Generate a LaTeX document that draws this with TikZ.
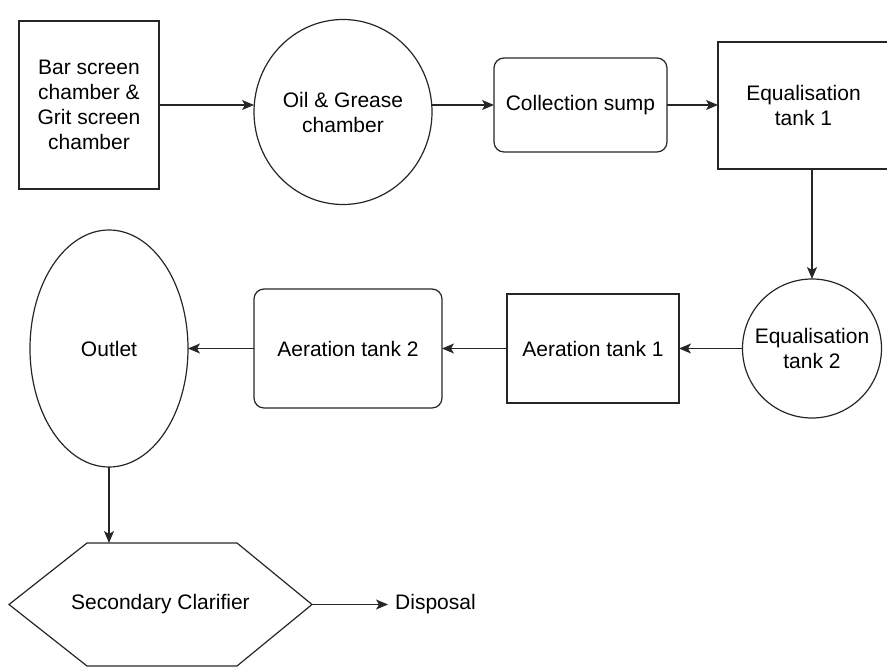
\documentclass[tikz,border=0pt]{standalone}
\usepackage{fontspec}
\setmainfont{Liberation Sans}
\usetikzlibrary{shapes.geometric,arrows.meta}

\tikzset{
  unit/.style={draw=black!85, line width=1.2pt, align=center, inner sep=2pt,
    outer sep=0pt, font=\fontsize{21}{25}\selectfont},
  tankbox/.style={unit, rectangle},
  sumpbox/.style={unit, rectangle, rounded corners=10pt},
  chamber/.style={unit, ellipse},
  clarbox/.style={unit, rectangle, draw=none},
  outline/.style={draw=black!85, line width=1.2pt, line join=miter},
  lbl/.style={align=center, font=\fontsize{21}{25}\selectfont},
  flow/.style={draw=black!85, line width=1.2pt,
    -{Stealth[length=12pt,width=10pt,inset=3pt]}},
}

\begin{document}
\begin{tikzpicture}[x=1pt,y=-1pt]
    \useasboundingbox (0,0) rectangle (887,669);
    % First row
    \node[tankbox, minimum width=140pt, minimum height=168pt] (bar) at (89,105)
      {Bar screen\\chamber \&\\Grit screen\\chamber};
    \node[chamber, minimum width=178pt, minimum height=185pt] (oil) at (343,112)
      {Oil \& Grease\\chamber};
    \node[sumpbox, minimum width=173pt, minimum height=94pt] (sump) at (580.5,105)
      {Collection sump};
    \node[tankbox, minimum width=171pt, minimum height=127pt] (eq1) at (803.5,105.5)
      {Equalisation\\tank 1};
    % Second row
    \node[chamber, minimum width=139pt, minimum height=139pt,
      label={[lbl]center:Equalisation\\tank 2}] (eq2) at (812,348.5) {};
    \node[tankbox, minimum width=172pt, minimum height=109pt] (aer1) at (593,348.5)
      {Aeration tank 1};
    \node[sumpbox, minimum width=188pt, minimum height=119pt] (aer2) at (348,348.5)
      {Aeration tank 2};
    \node[chamber, minimum width=158pt, minimum height=237pt] (outlet) at (109,348.5)
      {Outlet};
    % Clarifier (hexagon on the node's anchors) and disposal
    \node[clarbox, minimum width=303pt, minimum height=123pt] (clar) at (160.5,604.5)
      {Secondary Clarifier};
    \draw[outline] ([xshift=78pt]clar.north west) -- ([xshift=-75pt]clar.north east)
      -- (clar.east) -- ([xshift=-75pt]clar.south east)
      -- ([xshift=78pt]clar.south west) -- (clar.west) -- cycle;
    \node[lbl, anchor=west, inner sep=0pt, inner xsep=7pt] (disp) at (388,604.5)
      {Disposal};
    % Arrows
    \draw[flow] (bar.east) -- (bar.east -| oil.west);
    \draw[flow] (oil.east |- sump.west) -- (sump.west);
    \draw[flow] (sump.east) -- (sump.east -| eq1.west);
    \draw[flow] (eq1.south -| eq2.north) -- (eq2.north);
    \draw[flow] (eq2.west) -- (aer1.east);
    \draw[flow] (aer1.west) -- (aer2.east);
    \draw[flow] (aer2.west) -- (outlet.east);
    \draw[flow] (outlet.south) -- (outlet.south |- clar.north);
    \draw[flow] (clar.east) -- (disp.west);
\end{tikzpicture}
\end{document}
